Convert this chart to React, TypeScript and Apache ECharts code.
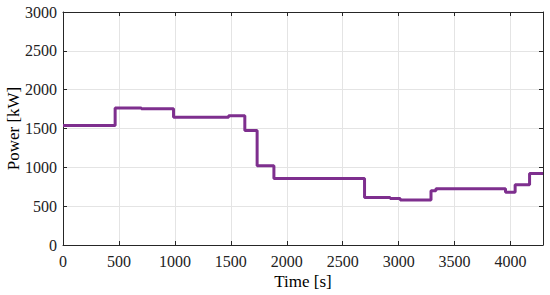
import React, { useEffect, useRef } from "react";
import * as echarts from "echarts";

const times = [0, 466, 700, 988, 1480, 1625, 1735, 1885, 2695, 2924, 3014, 3289, 3333, 3955, 4041, 4170, 4290];
const power = [1540, 1765, 1755, 1645, 1665, 1475, 1020, 855, 610, 598, 578, 700, 725, 680, 775, 920, 920];

const xMax = 4290;
const yMax = 3000;
const tickStep = 500;

export default function App() {
  const ref = useRef<HTMLDivElement>(null);
  useEffect(() => {
    if (!ref.current) return;
    const chart = echarts.init(ref.current, null, { renderer: "svg" });
    const font = "Liberation Serif";
    const axisColor = "#262626";
    const xBase = {
      type: "value" as const,
      min: 0,
      max: xMax,
      interval: tickStep,
      axisLine: { show: true, onZero: false, lineStyle: { color: axisColor, width: 1 } },
      axisTick: { show: true, inside: true, length: 4, lineStyle: { color: axisColor } },
    };
    const yBase = {
      type: "value" as const,
      min: 0,
      max: yMax,
      interval: tickStep,
      axisLine: { show: true, onZero: false, lineStyle: { color: axisColor, width: 1 } },
      axisTick: { show: true, inside: true, length: 4, lineStyle: { color: axisColor } },
    };
    const labelStyle = {
      fontFamily: font,
      fontSize: 16,
      color: "#222",
      formatter: (v: number) => String(v),
    };
    chart.setOption({
      animation: false,
      textStyle: { fontFamily: font },
      grid: { left: 63, right: 7, top: 12, bottom: 50, containLabel: false, outerBoundsMode: "none" },
      xAxis: [
        {
          ...xBase,
          position: "bottom",
          name: "Time [s]",
          nameLocation: "middle",
          nameGap: 28,
          nameMoveOverlap: false,
          nameTextStyle: { fontFamily: font, fontSize: 17, color: "#000" },
          axisLabel: { ...labelStyle, margin: 8, showMaxLabel: false },
          splitLine: { show: true, lineStyle: { color: "#e4e4e4", width: 1 } },
        },
        {
          ...xBase,
          position: "top",
          axisLabel: { show: false },
          splitLine: { show: false },
        },
      ],
      yAxis: [
        {
          ...yBase,
          position: "left",
          name: "Power [kW]",
          nameLocation: "middle",
          nameGap: 41,
          nameMoveOverlap: false,
          nameTextStyle: { fontFamily: font, fontSize: 17, color: "#000" },
          axisLabel: { ...labelStyle, margin: 6 },
          splitLine: { show: true, lineStyle: { color: "#e4e4e4", width: 1 } },
        },
        {
          ...yBase,
          position: "right",
          axisLabel: { show: false },
          splitLine: { show: false },
        },
      ],
      series: [
        {
          type: "line",
          step: "end",
          data: times.map((t, i) => [t, power[i]]),
          showSymbol: false,
          lineStyle: { color: "#7E2F8E", width: 3 },
          itemStyle: { color: "#7E2F8E" },
        },
      ],
    });
    return () => chart.dispose();
  }, []);
  return <div ref={ref} style={{ width: 550, height: 295, position: "absolute", left: 0, top: 0, background: "#fff" }} />;
}
